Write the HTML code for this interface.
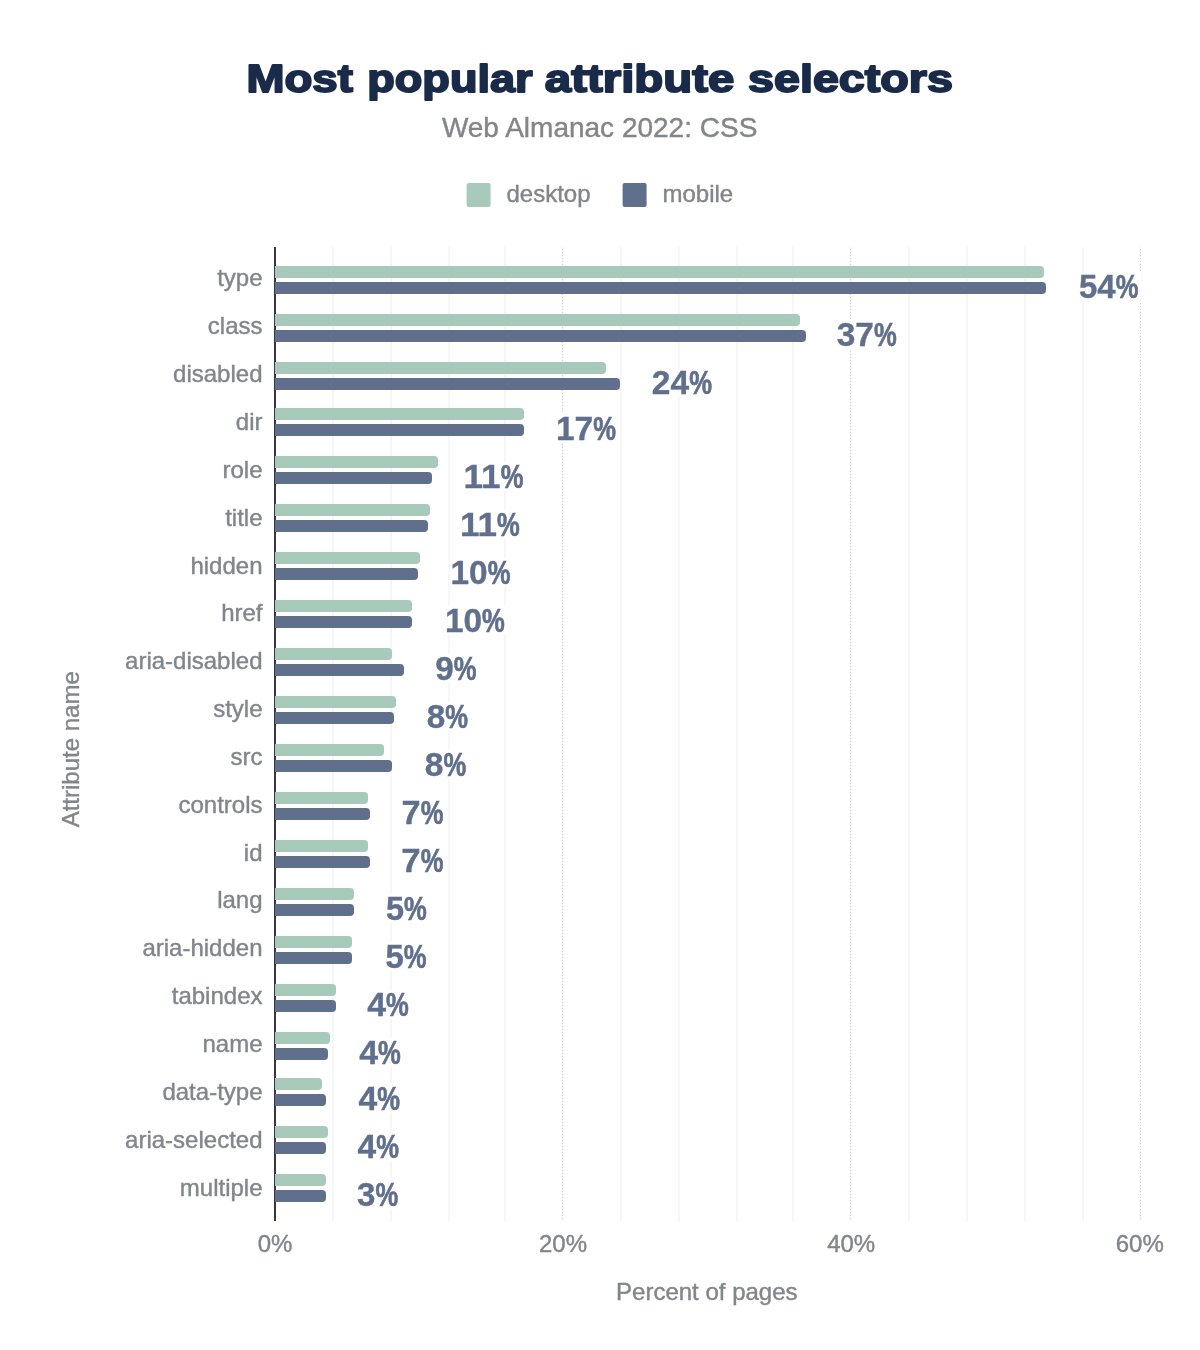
<!DOCTYPE html>
<html lang="en"><head><meta charset="utf-8"><title>Most popular attribute selectors</title>
<style>
html,body{margin:0;padding:0;background:#fff;}
body{width:1200px;height:1350px;overflow:hidden;font-family:"Liberation Sans",sans-serif;}
svg{display:block;}
text{font-family:"Liberation Sans",sans-serif;}
.t{fill:#80868b;font-size:24px;stroke:#80868b;stroke-width:.4px;}
.v{fill:#5f6f8c;font-size:33px;font-weight:bold;stroke:#5f6f8c;stroke-width:.35px;}
.p{stroke-width:.65px;}
</style></head><body>
<svg width="1200" height="1350" viewBox="0 0 1200 1350">
<rect width="1200" height="1350" fill="#fff"/>
<text y="91.8" font-size="39.5" font-weight="bold" fill="#1a2b49" stroke="#1a2b49" stroke-width="1.9" stroke-linejoin="round"><tspan x="246.4" textLength="106.5" lengthAdjust="spacingAndGlyphs">Most</tspan> <tspan x="367.3" textLength="165.25" lengthAdjust="spacingAndGlyphs">popular</tspan> <tspan x="544.85" textLength="189.55" lengthAdjust="spacingAndGlyphs">attribute</tspan> <tspan x="748.05" textLength="204.9" lengthAdjust="spacingAndGlyphs">selectors</tspan></text>
<text x="599.6" y="136.8" text-anchor="middle" class="t" style="font-size:28px">Web Almanac 2022: CSS</text>
<rect x="466.6" y="183" width="24" height="24" rx="2" fill="#a8caba"/>
<text x="506.5" y="201.5" class="t">desktop</text>
<rect x="622.6" y="183" width="24" height="24" rx="2" fill="#5f6f8c"/>
<text x="662.5" y="201.5" class="t">mobile</text>
<rect x="332.15" y="247" width="1.7" height="974" fill="#f5f5f5"/>
<rect x="390.35" y="247" width="1.7" height="974" fill="#f5f5f5"/>
<rect x="448.35" y="247" width="1.7" height="974" fill="#f5f5f5"/>
<rect x="504.15" y="247" width="1.7" height="974" fill="#f5f5f5"/>
<rect x="619.95" y="247" width="1.7" height="974" fill="#f5f5f5"/>
<rect x="677.95" y="247" width="1.7" height="974" fill="#f5f5f5"/>
<rect x="736.15" y="247" width="1.7" height="974" fill="#f5f5f5"/>
<rect x="792.05" y="247" width="1.7" height="974" fill="#f5f5f5"/>
<rect x="907.95" y="247" width="1.7" height="974" fill="#f5f5f5"/>
<rect x="966.15" y="247" width="1.7" height="974" fill="#f5f5f5"/>
<rect x="1024.15" y="247" width="1.7" height="974" fill="#f5f5f5"/>
<rect x="1081.95" y="247" width="1.7" height="974" fill="#f5f5f5"/>
<rect x="561.5" y="247" width="2" height="974" fill="#f7f7f7"/>
<line x1="562.5" y1="249" x2="562.5" y2="1221" stroke="#d2d2d2" stroke-width="1" stroke-dasharray="1 2"/>
<rect x="849.5" y="247" width="2" height="974" fill="#f7f7f7"/>
<line x1="850.5" y1="249" x2="850.5" y2="1221" stroke="#d2d2d2" stroke-width="1" stroke-dasharray="1 2"/>
<rect x="1139.5" y="247" width="2" height="974" fill="#f7f7f7"/>
<line x1="1140.5" y1="249" x2="1140.5" y2="1221" stroke="#d2d2d2" stroke-width="1" stroke-dasharray="1 2"/>
<rect x="274" y="247" width="2" height="974" fill="#353844"/>
<path d="M275.0 266H1040.0a4 4 0 0 1 4 4v4a4 4 0 0 1 -4 4H275.0z" fill="#a8caba"/>
<path d="M275.0 282H1042.0a4 4 0 0 1 4 4v4a4 4 0 0 1 -4 4H275.0z" fill="#5f6f8c"/>
<text x="262.5" y="286.40" text-anchor="end" class="t">type</text>
<rect x="1077.0" y="271.7" width="64.0" height="29" fill="#fff"/>
<text y="297.70" class="v"><tspan x="1078.98" textLength="36.65" lengthAdjust="spacingAndGlyphs">54</tspan><tspan x="1115.63" textLength="22.74" lengthAdjust="spacingAndGlyphs" class="p">%</tspan></text>
<path d="M275.0 314H796.0a4 4 0 0 1 4 4v4a4 4 0 0 1 -4 4H275.0z" fill="#a8caba"/>
<path d="M275.0 330H802.0a4 4 0 0 1 4 4v4a4 4 0 0 1 -4 4H275.0z" fill="#5f6f8c"/>
<text x="262.5" y="334.25" text-anchor="end" class="t">class</text>
<rect x="834.5" y="319.7" width="64.8" height="29" fill="#fff"/>
<text y="345.70" class="v"><tspan x="836.74" textLength="37.19" lengthAdjust="spacingAndGlyphs">37</tspan><tspan x="873.93" textLength="22.74" lengthAdjust="spacingAndGlyphs" class="p">%</tspan></text>
<path d="M275.0 362H602.0a4 4 0 0 1 4 4v4a4 4 0 0 1 -4 4H275.0z" fill="#a8caba"/>
<path d="M275.0 378H616.0a4 4 0 0 1 4 4v4a4 4 0 0 1 -4 4H275.0z" fill="#5f6f8c"/>
<text x="262.5" y="382.10" text-anchor="end" class="t">disabled</text>
<rect x="650.0" y="367.7" width="64.5" height="29" fill="#fff"/>
<text y="393.70" class="v"><tspan x="651.85" textLength="37.28" lengthAdjust="spacingAndGlyphs">24</tspan><tspan x="689.13" textLength="22.74" lengthAdjust="spacingAndGlyphs" class="p">%</tspan></text>
<path d="M275.0 408H520.0a4 4 0 0 1 4 4v4a4 4 0 0 1 -4 4H275.0z" fill="#a8caba"/>
<path d="M275.0 424H520.0a4 4 0 0 1 4 4v4a4 4 0 0 1 -4 4H275.0z" fill="#5f6f8c"/>
<text x="262.5" y="429.95" text-anchor="end" class="t">dir</text>
<rect x="555.0" y="413.7" width="63.6" height="29" fill="#fff"/>
<text y="439.70" class="v"><tspan x="555.92" textLength="37.31" lengthAdjust="spacingAndGlyphs">17</tspan><tspan x="593.23" textLength="22.74" lengthAdjust="spacingAndGlyphs" class="p">%</tspan></text>
<path d="M275.0 456H434.0a4 4 0 0 1 4 4v4a4 4 0 0 1 -4 4H275.0z" fill="#a8caba"/>
<path d="M275.0 472H428.0a4 4 0 0 1 4 4v4a4 4 0 0 1 -4 4H275.0z" fill="#5f6f8c"/>
<text x="262.5" y="477.80" text-anchor="end" class="t">role</text>
<rect x="462.6" y="461.7" width="63.4" height="29" fill="#fff"/>
<text y="487.70" class="v"><tspan x="463.52" textLength="37.11" lengthAdjust="spacingAndGlyphs">11</tspan><tspan x="500.63" textLength="22.74" lengthAdjust="spacingAndGlyphs" class="p">%</tspan></text>
<path d="M275.0 504H426.0a4 4 0 0 1 4 4v4a4 4 0 0 1 -4 4H275.0z" fill="#a8caba"/>
<path d="M275.0 520H424.0a4 4 0 0 1 4 4v4a4 4 0 0 1 -4 4H275.0z" fill="#5f6f8c"/>
<text x="262.5" y="525.65" text-anchor="end" class="t">title</text>
<rect x="459.0" y="509.7" width="63.3" height="29" fill="#fff"/>
<text y="535.70" class="v"><tspan x="459.92" textLength="37.01" lengthAdjust="spacingAndGlyphs">11</tspan><tspan x="496.93" textLength="22.74" lengthAdjust="spacingAndGlyphs" class="p">%</tspan></text>
<path d="M275.0 552H416.0a4 4 0 0 1 4 4v4a4 4 0 0 1 -4 4H275.0z" fill="#a8caba"/>
<path d="M275.0 568H414.0a4 4 0 0 1 4 4v4a4 4 0 0 1 -4 4H275.0z" fill="#5f6f8c"/>
<text x="262.5" y="573.50" text-anchor="end" class="t">hidden</text>
<rect x="449.6" y="557.7" width="63.4" height="29" fill="#fff"/>
<text y="583.70" class="v"><tspan x="450.52" textLength="37.11" lengthAdjust="spacingAndGlyphs">10</tspan><tspan x="487.63" textLength="22.74" lengthAdjust="spacingAndGlyphs" class="p">%</tspan></text>
<path d="M275.0 600H408.0a4 4 0 0 1 4 4v4a4 4 0 0 1 -4 4H275.0z" fill="#a8caba"/>
<path d="M275.0 616H408.0a4 4 0 0 1 4 4v4a4 4 0 0 1 -4 4H275.0z" fill="#5f6f8c"/>
<text x="262.5" y="621.35" text-anchor="end" class="t">href</text>
<rect x="444.0" y="605.7" width="63.4" height="29" fill="#fff"/>
<text y="631.70" class="v"><tspan x="444.92" textLength="37.11" lengthAdjust="spacingAndGlyphs">10</tspan><tspan x="482.03" textLength="22.74" lengthAdjust="spacingAndGlyphs" class="p">%</tspan></text>
<path d="M275.0 648H388.0a4 4 0 0 1 4 4v4a4 4 0 0 1 -4 4H275.0z" fill="#a8caba"/>
<path d="M275.0 664H400.0a4 4 0 0 1 4 4v4a4 4 0 0 1 -4 4H275.0z" fill="#5f6f8c"/>
<text x="262.5" y="669.20" text-anchor="end" class="t">aria-disabled</text>
<rect x="433.3" y="653.7" width="45.7" height="29" fill="#fff"/>
<text y="679.70" class="v"><tspan x="435.15" textLength="18.48" lengthAdjust="spacingAndGlyphs">9</tspan><tspan x="453.63" textLength="22.74" lengthAdjust="spacingAndGlyphs" class="p">%</tspan></text>
<path d="M275.0 696H392.0a4 4 0 0 1 4 4v4a4 4 0 0 1 -4 4H275.0z" fill="#a8caba"/>
<path d="M275.0 712H390.0a4 4 0 0 1 4 4v4a4 4 0 0 1 -4 4H275.0z" fill="#5f6f8c"/>
<text x="262.5" y="717.05" text-anchor="end" class="t">style</text>
<rect x="424.9" y="701.7" width="45.8" height="29" fill="#fff"/>
<text y="727.70" class="v"><tspan x="426.85" textLength="18.48" lengthAdjust="spacingAndGlyphs">8</tspan><tspan x="445.33" textLength="22.74" lengthAdjust="spacingAndGlyphs" class="p">%</tspan></text>
<path d="M275.0 744H380.0a4 4 0 0 1 4 4v4a4 4 0 0 1 -4 4H275.0z" fill="#a8caba"/>
<path d="M275.0 760H388.0a4 4 0 0 1 4 4v4a4 4 0 0 1 -4 4H275.0z" fill="#5f6f8c"/>
<text x="262.5" y="764.90" text-anchor="end" class="t">src</text>
<rect x="422.9" y="749.7" width="46.0" height="29" fill="#fff"/>
<text y="775.70" class="v"><tspan x="424.85" textLength="18.68" lengthAdjust="spacingAndGlyphs">8</tspan><tspan x="443.53" textLength="22.74" lengthAdjust="spacingAndGlyphs" class="p">%</tspan></text>
<path d="M275.0 792H364.0a4 4 0 0 1 4 4v4a4 4 0 0 1 -4 4H275.0z" fill="#a8caba"/>
<path d="M275.0 808H366.0a4 4 0 0 1 4 4v4a4 4 0 0 1 -4 4H275.0z" fill="#5f6f8c"/>
<text x="262.5" y="812.75" text-anchor="end" class="t">controls</text>
<rect x="400.0" y="797.7" width="46.0" height="29" fill="#fff"/>
<text y="823.70" class="v"><tspan x="401.58" textLength="19.05" lengthAdjust="spacingAndGlyphs">7</tspan><tspan x="420.63" textLength="22.74" lengthAdjust="spacingAndGlyphs" class="p">%</tspan></text>
<path d="M275.0 840H364.0a4 4 0 0 1 4 4v4a4 4 0 0 1 -4 4H275.0z" fill="#a8caba"/>
<path d="M275.0 856H366.0a4 4 0 0 1 4 4v4a4 4 0 0 1 -4 4H275.0z" fill="#5f6f8c"/>
<text x="262.5" y="860.60" text-anchor="end" class="t">id</text>
<rect x="399.7" y="845.7" width="46.3" height="29" fill="#fff"/>
<text y="871.70" class="v"><tspan x="401.28" textLength="19.35" lengthAdjust="spacingAndGlyphs">7</tspan><tspan x="420.63" textLength="22.74" lengthAdjust="spacingAndGlyphs" class="p">%</tspan></text>
<path d="M275.0 888H350.0a4 4 0 0 1 4 4v4a4 4 0 0 1 -4 4H275.0z" fill="#a8caba"/>
<path d="M275.0 904H350.0a4 4 0 0 1 4 4v4a4 4 0 0 1 -4 4H275.0z" fill="#5f6f8c"/>
<text x="262.5" y="908.45" text-anchor="end" class="t">lang</text>
<rect x="384.0" y="893.7" width="45.4" height="29" fill="#fff"/>
<text y="919.70" class="v"><tspan x="385.98" textLength="18.05" lengthAdjust="spacingAndGlyphs">5</tspan><tspan x="404.03" textLength="22.74" lengthAdjust="spacingAndGlyphs" class="p">%</tspan></text>
<path d="M275.0 936H348.0a4 4 0 0 1 4 4v4a4 4 0 0 1 -4 4H275.0z" fill="#a8caba"/>
<path d="M275.0 952H348.0a4 4 0 0 1 4 4v4a4 4 0 0 1 -4 4H275.0z" fill="#5f6f8c"/>
<text x="262.5" y="956.30" text-anchor="end" class="t">aria-hidden</text>
<rect x="383.4" y="941.7" width="45.6" height="29" fill="#fff"/>
<text y="967.70" class="v"><tspan x="385.38" textLength="18.25" lengthAdjust="spacingAndGlyphs">5</tspan><tspan x="403.63" textLength="22.74" lengthAdjust="spacingAndGlyphs" class="p">%</tspan></text>
<path d="M275.0 984H332.0a4 4 0 0 1 4 4v4a4 4 0 0 1 -4 4H275.0z" fill="#a8caba"/>
<path d="M275.0 1000H332.0a4 4 0 0 1 4 4v4a4 4 0 0 1 -4 4H275.0z" fill="#5f6f8c"/>
<text x="262.5" y="1004.15" text-anchor="end" class="t">tabindex</text>
<rect x="364.7" y="989.7" width="46.7" height="29" fill="#fff"/>
<text y="1015.70" class="v"><tspan x="367.20" textLength="18.83" lengthAdjust="spacingAndGlyphs">4</tspan><tspan x="386.03" textLength="22.74" lengthAdjust="spacingAndGlyphs" class="p">%</tspan></text>
<path d="M275.0 1032H326.0a4 4 0 0 1 4 4v4a4 4 0 0 1 -4 4H275.0z" fill="#a8caba"/>
<path d="M275.0 1048H324.0a4 4 0 0 1 4 4v4a4 4 0 0 1 -4 4H275.0z" fill="#5f6f8c"/>
<text x="262.5" y="1052.00" text-anchor="end" class="t">name</text>
<rect x="356.7" y="1037.7" width="46.7" height="29" fill="#fff"/>
<text y="1063.70" class="v"><tspan x="359.20" textLength="18.83" lengthAdjust="spacingAndGlyphs">4</tspan><tspan x="378.03" textLength="22.74" lengthAdjust="spacingAndGlyphs" class="p">%</tspan></text>
<path d="M275.0 1078H318.0a4 4 0 0 1 4 4v4a4 4 0 0 1 -4 4H275.0z" fill="#a8caba"/>
<path d="M275.0 1094H322.0a4 4 0 0 1 4 4v4a4 4 0 0 1 -4 4H275.0z" fill="#5f6f8c"/>
<text x="262.5" y="1099.85" text-anchor="end" class="t">data-type</text>
<rect x="356.0" y="1083.7" width="46.6" height="29" fill="#fff"/>
<text y="1109.70" class="v"><tspan x="358.50" textLength="18.73" lengthAdjust="spacingAndGlyphs">4</tspan><tspan x="377.23" textLength="22.74" lengthAdjust="spacingAndGlyphs" class="p">%</tspan></text>
<path d="M275.0 1126H324.0a4 4 0 0 1 4 4v4a4 4 0 0 1 -4 4H275.0z" fill="#a8caba"/>
<path d="M275.0 1142H322.0a4 4 0 0 1 4 4v4a4 4 0 0 1 -4 4H275.0z" fill="#5f6f8c"/>
<text x="262.5" y="1147.70" text-anchor="end" class="t">aria-selected</text>
<rect x="355.0" y="1131.7" width="46.5" height="29" fill="#fff"/>
<text y="1157.70" class="v"><tspan x="357.50" textLength="18.63" lengthAdjust="spacingAndGlyphs">4</tspan><tspan x="376.13" textLength="22.74" lengthAdjust="spacingAndGlyphs" class="p">%</tspan></text>
<path d="M275.0 1174H322.0a4 4 0 0 1 4 4v4a4 4 0 0 1 -4 4H275.0z" fill="#a8caba"/>
<path d="M275.0 1190H322.0a4 4 0 0 1 4 4v4a4 4 0 0 1 -4 4H275.0z" fill="#5f6f8c"/>
<text x="262.5" y="1195.55" text-anchor="end" class="t">multiple</text>
<rect x="354.8" y="1179.7" width="46.0" height="29" fill="#fff"/>
<text y="1205.70" class="v"><tspan x="357.04" textLength="18.39" lengthAdjust="spacingAndGlyphs">3</tspan><tspan x="375.43" textLength="22.74" lengthAdjust="spacingAndGlyphs" class="p">%</tspan></text>
<text x="275.0" y="1251.8" text-anchor="middle" class="t">0%</text>
<text x="563.0" y="1251.8" text-anchor="middle" class="t">20%</text>
<text x="851.2" y="1251.8" text-anchor="middle" class="t">40%</text>
<text x="1139.8" y="1251.8" text-anchor="middle" class="t">60%</text>
<text x="706.8" y="1300" text-anchor="middle" class="t">Percent of pages</text>
<text transform="translate(79.3,749.3) rotate(-90)" text-anchor="middle" class="t">Attribute name</text>
</svg>
</body></html>
